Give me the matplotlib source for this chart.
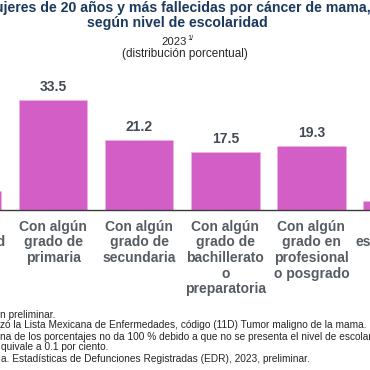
import matplotlib
matplotlib.use("Agg")
import matplotlib.pyplot as plt
from matplotlib.transforms import blended_transform_factory

categories = [
    "Sin\nescolaridad",
    "Con algún\ngrado de\nprimaria",
    "Con algún\ngrado de\nsecundaria",
    "Con algún\ngrado de\nbachillerato\no\npreparatoria",
    "Con algún\ngrado en\nprofesional\no posgrado",
    "No\nespecificado",
]
values = [5.7, 33.5, 21.2, 17.5, 19.3, 2.5]
value_labels = ["5.7", "33.5", "21.2", "17.5", "19.3", "2.5"]

title_lines = ["Mujeres de 20 años y más fallecidas por cáncer de mama,",
               "según nivel de escolaridad"]
year_text = "2023"
year_sup = "1/"
subtitle = "(distribución porcentual)"
footnotes = [
    "n preliminar.",
    "zó la Lista Mexicana de Enfermedades, código (11D) Tumor maligno de la mama.",
    "na de los porcentajes no da 100 % debido a que no se presenta el nivel de escolaridad preescolar, que e",
    "quivale a 0.1 por ciento.",
    "a. Estadísticas de Defunciones Registradas (EDR), 2023, preliminar.",
]

W = H = 370
fig = plt.figure(figsize=(3.7, 3.7), dpi=100)
fig.patch.set_facecolor("white")
plt.rcParams["font.family"] = ["Liberation Sans", "DejaVu Sans"]


def fx(x):
    return x / W


def fy(y):
    return 1 - y / H


# axes geometry (pixels)
step = 86.1
c0 = 53.1 - step
x_left = c0 - step / 2
x_right = c0 + step * 5.5
base_y = 209.5
ppu = 3.27
ymax = 35
ax = fig.add_axes([fx(x_left), fy(base_y), (x_right - x_left) / W, ymax * ppu / H])
ax.set_xlim(-0.5, 5.5)
ax.set_ylim(0, ymax)
ax.patch.set_alpha(0)

bar_color = "#D35FC6"
xs = list(range(len(values)))
ax.bar(xs, values, width=0.795, color=bar_color, edgecolor="#EBB3E3", linewidth=0.5, zorder=2)

for s in ["top", "right", "left"]:
    ax.spines[s].set_visible(False)
ax.spines["bottom"].set_color("#3A3A3A")
ax.spines["bottom"].set_linewidth(1.0)
ax.spines["bottom"].set_zorder(3)
ax.set_xticks([])
ax.set_yticks([])

for x, v, lab in zip(xs, values, value_labels):
    ax.annotate(lab, (x, v), xytext=(0, 6.7), textcoords="offset points",
                ha="center", va="baseline", fontsize=10, fontweight="bold",
                color="#424A54")

# category labels, line by line
tr = blended_transform_factory(ax.transData, fig.transFigure)
for x, lab in zip(xs, categories):
    for k, line in enumerate(lab.split("\n")):
        ax.text(x, fy(230.7 + 15.7 * k), line, transform=tr, ha="center", va="baseline",
                fontsize=10, fontweight="bold", color="#565C64", clip_on=False)

# titles
title_color = "#1B3A5E"
fig.text(fx(177), fy(11.7), title_lines[0], ha="center", va="baseline",
         fontsize=10.2, fontweight="bold", color=title_color)
fig.text(fx(177), fy(27.3), title_lines[1], ha="center", va="baseline",
         fontsize=10.2, fontweight="bold", color=title_color)
fig.text(fx(161.7), fy(45), year_text, ha="left", va="baseline", fontsize=8.1, color="#262626")
fig.text(fx(187.3), fy(40.5), year_sup, ha="left", va="baseline", fontsize=5.2, color="#262626")
fig.text(fx(185), fy(57.3), subtitle, ha="center", va="baseline", fontsize=8.5, color="#262626")

# footnotes
fn_y = [317.5, 328.5, 339.5, 350.5, 362.5]
fn_x = [0.3, 0.3, 0.0, 0.6, 0.8]
for t, x, y in zip(footnotes, fn_x, fn_y):
    fig.text(fx(x), fy(y), t, ha="left", va="baseline", fontsize=7.3, color="#262626")

fig.savefig("out.png", dpi=100, facecolor="white")
